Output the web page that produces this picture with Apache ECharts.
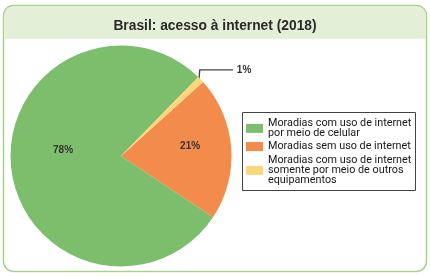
<!DOCTYPE html>
<html><head><meta charset="utf-8">
<script src="https://cdn.jsdelivr.net/npm/echarts@6/dist/echarts.min.js"></script>
<style>html,body{margin:0;padding:0;background:#fff}#c{width:430px;height:277px}</style>
</head><body><div id="c"></div>
<script>
// Data
const titleText = 'Brasil: acesso à internet (2018)';
const categories = [
  'Moradias sem uso de internet',
  'Moradias com uso de internet\npor meio de celular',
  'Moradias com uso de internet\nsomente por meio de outros\nequipamentos'
];
const values = [21, 78, 1];
const legendOrder = [1, 0, 2];
const colors = ['#f38c4b', '#7cbe6b', '#fcd67c'];

const chart = echarts.init(document.getElementById('c'), null, {renderer: 'canvas'});
const FONT = 'Liberation Sans';
const LEG_FONT = 'Roboto';
const lh = 9.8;
const legendTops = [118, 141, 155];

const legends = legendOrder.map((idx, k) => ({
  data: [categories[idx]],
  left: 246,
  top: legendTops[k],
  orient: 'vertical',
  itemWidth: 17, itemHeight: 9, itemGap: 0,
  icon: 'rect',
  selectedMode: false,
  padding: 0,
  textStyle: {
    fontFamily: LEG_FONT, fontSize: 10.8, color: '#161616',
    lineHeight: lh, height: lh, padding: 0
  },
  itemStyle: {borderWidth: 0}
}));

const option = {
  animation: false,
  title: {
    text: titleText, left: 'center', top: 14,
    textStyle: {fontFamily: FONT, fontSize: 13.8, fontWeight: 'bold', color: '#2a2a2a'}
  },
  graphic: [
    {type: 'rect', z: -10, shape: {x: 3.5, y: 5.5, width: 423, height: 266, r: 10},
     style: {fill: '#fff', stroke: '#a9d18e', lineWidth: 1.5}},
    {type: 'rect', z: -9, shape: {x: 4.2, y: 6.2, width: 421.6, height: 32.5, r: [9, 9, 0, 0]},
     style: {fill: '#e4efd8'}},
    {type: 'rect', z: 5, shape: {x: 242.5, y: 112.5, width: 173, height: 78},
     style: {fill: 'none', stroke: '#444', lineWidth: 1}}
  ],
  legend: legends,
  series: [{
    type: 'pie',
    center: [121, 156],
    radius: 110.5,
    startAngle: 42,
    clockwise: true,
    avoidLabelOverlap: false,
    silent: true,
    itemStyle: {borderWidth: 0},
    data: categories.map((n, i) => {
      const d = {name: n, value: values[i], itemStyle: {color: colors[i]}};
      if (i === 0) d.label = {position: 'inside', offset: [11, -5]};
      if (i === 1) d.label = {position: 'inside', offset: [0, -12]};
      if (i === 2) d.label = {position: 'outside', distanceToLabelLine: 4};
      return d;
    }),
    label: {
      formatter: p => p.value + '%',
      fontFamily: FONT, fontSize: 10, fontWeight: 'bold', color: '#333'
    },
    labelLine: {show: true, length: 14, length2: 22, smooth: false,
      lineStyle: {color: '#444', width: 1.3}},
    labelLayout: function (p) {
      if (p.dataIndex !== 2 || !p.labelLinePoints) return {};
      const s = p.labelLinePoints[0];
      const e = p.labelLinePoints[2];
      return {labelLinePoints: [[s[0] - 2, s[1] + 3], [s[0] - 1, e[1]], e]};
    }
  }]
};
chart.setOption(option);
</script></body></html>
